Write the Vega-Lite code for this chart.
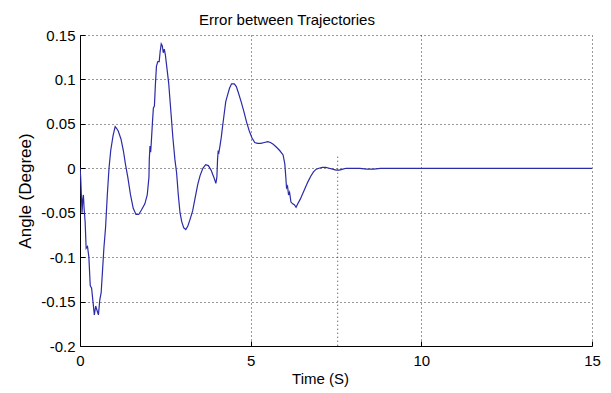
{
  "$schema": "https://vega.github.io/schema/vega-lite/v6.json",
  "width": 512,
  "height": 311,
  "autosize": "none",
  "padding": {"left": 80, "top": 35, "right": 19, "bottom": 47},
  "background": "white",
  "config": {"view": {"stroke": null}, "font": "Liberation Sans"},
  "title": {"text": "Error between Trajectories", "fontSize": 15, "fontWeight": "normal", "font": "Liberation Sans", "color": "black", "anchor": "middle", "dx": -49, "offset": 0},
  "datasets": {
    "err": [
      {"t": 0, "y": 0}, {"t": 0.02, "y": -0.01}, {"t": 0.04, "y": -0.03}, {"t": 0.06, "y": -0.05},
      {"t": 0.08, "y": -0.035}, {"t": 0.1, "y": -0.03}, {"t": 0.12, "y": -0.045}, {"t": 0.15, "y": -0.06},
      {"t": 0.18, "y": -0.09}, {"t": 0.22, "y": -0.088}, {"t": 0.26, "y": -0.1}, {"t": 0.3, "y": -0.132},
      {"t": 0.34, "y": -0.135}, {"t": 0.38, "y": -0.15}, {"t": 0.42, "y": -0.165}, {"t": 0.46, "y": -0.155},
      {"t": 0.5, "y": -0.16}, {"t": 0.54, "y": -0.165}, {"t": 0.58, "y": -0.148}, {"t": 0.62, "y": -0.14},
      {"t": 0.66, "y": -0.115}, {"t": 0.7, "y": -0.09}, {"t": 0.75, "y": -0.066}, {"t": 0.8, "y": -0.03},
      {"t": 0.85, "y": 0}, {"t": 0.9, "y": 0.02}, {"t": 0.97, "y": 0.037}, {"t": 1.03, "y": 0.047},
      {"t": 1.07, "y": 0.045}, {"t": 1.12, "y": 0.042}, {"t": 1.2, "y": 0.033}, {"t": 1.27, "y": 0.02},
      {"t": 1.33, "y": 0.005}, {"t": 1.4, "y": -0.01}, {"t": 1.48, "y": -0.03}, {"t": 1.56, "y": -0.045},
      {"t": 1.64, "y": -0.052}, {"t": 1.72, "y": -0.052}, {"t": 1.8, "y": -0.047}, {"t": 1.9, "y": -0.04},
      {"t": 1.97, "y": -0.03}, {"t": 2.02, "y": -0.01}, {"t": 2.03, "y": 0.01}, {"t": 2.05, "y": 0.025},
      {"t": 2.07, "y": 0.018}, {"t": 2.09, "y": 0.03}, {"t": 2.12, "y": 0.05}, {"t": 2.15, "y": 0.068},
      {"t": 2.18, "y": 0.07}, {"t": 2.21, "y": 0.095}, {"t": 2.24, "y": 0.115}, {"t": 2.28, "y": 0.12},
      {"t": 2.32, "y": 0.12}, {"t": 2.35, "y": 0.132}, {"t": 2.38, "y": 0.14}, {"t": 2.41, "y": 0.138},
      {"t": 2.44, "y": 0.13}, {"t": 2.47, "y": 0.134}, {"t": 2.5, "y": 0.128}, {"t": 2.54, "y": 0.115},
      {"t": 2.6, "y": 0.095}, {"t": 2.66, "y": 0.065}, {"t": 2.72, "y": 0.035}, {"t": 2.78, "y": 0.01},
      {"t": 2.83, "y": -0.005}, {"t": 2.88, "y": -0.03}, {"t": 2.93, "y": -0.05}, {"t": 2.98, "y": -0.06},
      {"t": 3.04, "y": -0.067}, {"t": 3.1, "y": -0.069}, {"t": 3.16, "y": -0.065}, {"t": 3.22, "y": -0.058},
      {"t": 3.3, "y": -0.048}, {"t": 3.38, "y": -0.032}, {"t": 3.45, "y": -0.018}, {"t": 3.52, "y": -0.008},
      {"t": 3.6, "y": 0}, {"t": 3.68, "y": 0.004}, {"t": 3.76, "y": 0.003}, {"t": 3.84, "y": -0.002},
      {"t": 3.92, "y": -0.01}, {"t": 3.98, "y": -0.017}, {"t": 4.01, "y": -0.01}, {"t": 4.03, "y": 0.01},
      {"t": 4.05, "y": 0.02}, {"t": 4.07, "y": 0.018}, {"t": 4.1, "y": 0.025}, {"t": 4.14, "y": 0.035},
      {"t": 4.18, "y": 0.048}, {"t": 4.22, "y": 0.06}, {"t": 4.27, "y": 0.075}, {"t": 4.32, "y": 0.082},
      {"t": 4.38, "y": 0.09}, {"t": 4.44, "y": 0.095}, {"t": 4.52, "y": 0.095}, {"t": 4.58, "y": 0.092},
      {"t": 4.64, "y": 0.085}, {"t": 4.72, "y": 0.075}, {"t": 4.8, "y": 0.064}, {"t": 4.88, "y": 0.052},
      {"t": 4.96, "y": 0.042}, {"t": 5.04, "y": 0.034}, {"t": 5.12, "y": 0.029}, {"t": 5.2, "y": 0.028},
      {"t": 5.3, "y": 0.028}, {"t": 5.4, "y": 0.029}, {"t": 5.5, "y": 0.03}, {"t": 5.58, "y": 0.029},
      {"t": 5.66, "y": 0.027}, {"t": 5.75, "y": 0.024}, {"t": 5.85, "y": 0.02}, {"t": 5.95, "y": 0.015},
      {"t": 6.0, "y": 0.005}, {"t": 6.03, "y": -0.01}, {"t": 6.05, "y": -0.022}, {"t": 6.08, "y": -0.02},
      {"t": 6.11, "y": -0.03}, {"t": 6.14, "y": -0.027}, {"t": 6.18, "y": -0.038}, {"t": 6.23, "y": -0.04},
      {"t": 6.28, "y": -0.041}, {"t": 6.33, "y": -0.044}, {"t": 6.38, "y": -0.04}, {"t": 6.45, "y": -0.035},
      {"t": 6.52, "y": -0.029}, {"t": 6.6, "y": -0.022}, {"t": 6.68, "y": -0.015}, {"t": 6.76, "y": -0.009},
      {"t": 6.84, "y": -0.004}, {"t": 6.92, "y": -0.001}, {"t": 7.0, "y": 0}, {"t": 7.1, "y": 0.001},
      {"t": 7.2, "y": 0.001}, {"t": 7.3, "y": 0}, {"t": 7.4, "y": -0.001}, {"t": 7.5, "y": -0.002},
      {"t": 7.6, "y": -0.002}, {"t": 7.7, "y": -0.001}, {"t": 7.8, "y": 0}, {"t": 8.2, "y": 0},
      {"t": 8.4, "y": -0.001}, {"t": 8.6, "y": -0.001}, {"t": 8.8, "y": 0}, {"t": 15, "y": 0}
    ],
    "stray": [{"t": 7.55, "y1": 0.013, "y2": -0.2}]
  },
  "layer": [
    {
      "data": {"name": "stray"},
      "mark": {"type": "rule", "color": "#333333", "strokeWidth": 1, "strokeDash": [1, 3]},
      "encoding": {
        "x": {"field": "t", "type": "quantitative", "scale": {"domain": [0, 15]}},
        "y": {"field": "y1", "type": "quantitative", "scale": {"domain": [-0.2, 0.15]}},
        "y2": {"field": "y2"}
      }
    },
    {
      "data": {"name": "err"},
      "mark": {"type": "line", "color": "#2b2ba8", "strokeWidth": 1.2, "clip": true},
      "encoding": {
        "x": {
          "field": "t", "type": "quantitative",
          "scale": {"domain": [0, 15], "nice": false, "zero": false},
          "axis": {
            "values": [0, 5, 10, 15], "title": "Time (S)", "titleFontSize": 15, "titleFontWeight": "normal",
            "titleColor": "black", "titleFont": "Liberation Sans", "titleX": 240, "titlePadding": 3,
            "labelFontSize": 15, "labelColor": "black", "labelFont": "Liberation Sans",
            "labelPadding": 12, "tickSize": -5, "tickColor": "black", "domainColor": "black", "labelFlush": false,
            "grid": true, "gridColor": "#333333", "gridDash": [1, 3], "gridOpacity": 1, "gridWidth": 1,
            "labelExpr": "toString(datum.value)"
          }
        },
        "y": {
          "field": "y", "type": "quantitative",
          "scale": {"domain": [-0.2, 0.15], "nice": false, "zero": false},
          "axis": {
            "values": [-0.2, -0.15, -0.1, -0.05, 0, 0.05, 0.1, 0.15], "title": "Angle (Degree)",
            "titleFontSize": 17, "titleFontWeight": "normal", "titleColor": "black", "titleFont": "Liberation Sans",
            "titlePadding": 6,
            "labelFontSize": 15, "labelColor": "black", "labelFont": "Liberation Sans",
            "labelPadding": 10, "tickSize": -5, "tickColor": "black", "domainColor": "black", "labelFlush": false,
            "grid": true, "gridColor": "#333333", "gridDash": [1, 3], "gridOpacity": 1, "gridWidth": 1,
            "labelExpr": "toString(datum.value)"
          }
        }
      }
    }
  ]
}
